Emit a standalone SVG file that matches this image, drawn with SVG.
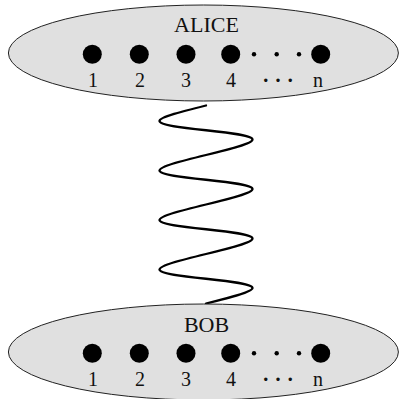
<svg xmlns="http://www.w3.org/2000/svg" width="399" height="399" viewBox="0 0 399 399">
<style>
.party{fill:#e0e0e0;stroke:#222;stroke-width:1}
.dot{fill:#000}
.t{font-family:"Liberation Serif","Times New Roman",serif;fill:#111;text-anchor:middle}
.name{font-size:22px}
.num{font-size:20px}
.dots{font-size:21px;font-weight:bold}
.wave{fill:none;stroke:#000;stroke-width:2.3;stroke-linecap:round}
</style>
<defs>
<g id="row">
<circle class="dot" cx="92.3" cy="0" r="9.5"/>
<circle class="dot" cx="139.3" cy="0" r="9.5"/>
<circle class="dot" cx="186" cy="0" r="9.5"/>
<circle class="dot" cx="230.7" cy="0" r="9.5"/>
<circle class="dot" cx="254" cy="0" r="2.2"/>
<circle class="dot" cx="276.7" cy="0" r="2.2"/>
<circle class="dot" cx="299" cy="0" r="2.2"/>
<circle class="dot" cx="320.7" cy="0" r="9.5"/>
</g>
</defs>
<g id="connectors">
<path class="wave" d="M206,105.5 C182.75,111.25 159.5,117 159.5,121 C159.5,129.5 252.5,131 252.5,139.5 C252.5,148 159.5,162 159.5,170.5 C159.5,179 252.5,180.5 252.5,189 C252.5,197.5 159.5,211.5 159.5,220 C159.5,228.5 252.5,230 252.5,238.5 C252.5,247 159.5,261 159.5,269.5 C159.5,278 252.5,279.5 252.5,288 C252.5,292 229.25,297.75 206,303.5"/>
</g>
<g id="alice">
<ellipse class="party" cx="203.4" cy="53" rx="195" ry="48"/>
<text class="t name" x="206.5" y="32">ALICE</text>
<use href="#row" y="54.3"/>
<text class="t num" x="93" y="86.5">1</text>
<text class="t num" x="140" y="86.5">2</text>
<text class="t num" x="186" y="86.5">3</text>
<text class="t num" x="231" y="86.5">4</text>
<text class="t dots" x="278" y="86.5">· · ·</text>
<text class="t num" x="318" y="86.5">n</text>
</g>
<g id="bob">
<ellipse class="party" cx="203.4" cy="352" rx="195" ry="48"/>
<text class="t name" x="206.5" y="332">BOB</text>
<use href="#row" y="353.3"/>
<text class="t num" x="93" y="385.5">1</text>
<text class="t num" x="140" y="385.5">2</text>
<text class="t num" x="186" y="385.5">3</text>
<text class="t num" x="231" y="385.5">4</text>
<text class="t dots" x="278" y="385.5">· · ·</text>
<text class="t num" x="318" y="385.5">n</text>
</g>
</svg>
